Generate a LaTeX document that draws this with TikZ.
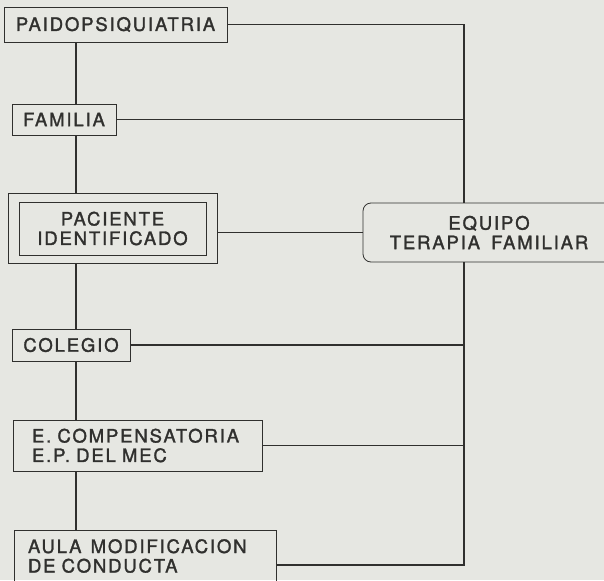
\documentclass[tikz,border=0pt]{standalone}
\usepackage{fontspec}
\setmainfont{TeX Gyre Heros}[LetterSpace=10, FakeBold=1.6, WordSpace=1.6]
\usepackage{tikz}
\usetikzlibrary{calc}
\usetikzlibrary{positioning}
\definecolor{papel}{RGB}{230,231,226}
\definecolor{tinta}{RGB}{48,48,46}

\tikzset{
  caja/.style={draw=tinta, line width=0.8pt, inner sep=0pt, text=tinta,
               font=\fontsize{18.5}{19.5}\selectfont},
  cajaizq/.style={caja, align=left, inner xsep=19pt},
  enlace/.style={-, draw=tinta, line width=1.2pt}
}

\begin{document}
\begin{tikzpicture}[x=1pt, y=-1pt]
\fill[papel] (0,0) rectangle (604,580);
\clip (0,0) rectangle (604,580);

\coordinate (ctop)  at ( 464, 22  );
\coordinate (cbot)  at ( 464, 565 );
\coordinate (spine) at ( 76,  0   );

\node[caja, minimum width=223pt, minimum height=35pt]   (paido)    at ( 115.5, 24.5 )  {PAIDOPSIQUIATRIA};
\node[caja, minimum width=104pt, minimum height=31pt]   (familia)  at ( 64,  119.5 )   {FAMILIA};
\node[caja, minimum width=209pt, minimum height=70pt]   (paciente) at ( 112.5, 228 )   {};
\node[caja, minimum width=187pt, minimum height=53pt, align=center]
                                                        (pacid)    at ( 112.5, 228.5 ) {PACIENTE\\IDENTIFICADO};
\node[caja, rounded corners=8pt, minimum width=252pt, minimum height=59pt, align=center]
                                                        (equipo)   at ( 489, 232.5 )   {EQUIPO\\TERAPIA FAMILIAR};
\node[caja, minimum width=118pt, minimum height=32pt]   (colegio)  at ( 71,  345 )     {COLEGIO};
\node[cajaizq, text width=211pt, minimum height=51pt]   (compens)  at ( 137.5, 445.5 ) {E. COMPENSATORIA\\E.P. DEL MEC};
\node[cajaizq, inner xsep=14pt, text width=234pt, minimum height=52pt]
                                                        (aula)     at ( 145, 556 )     {AULA\ \,MODIFICACION\\DE CONDUCTA};

% columna de la izquierda
\draw[enlace] (paido.south -| spine)    -- (familia.north -| spine);
\draw[enlace] (familia.south -| spine)  -- (paciente.north -| spine);
\draw[enlace] (paciente.south -| spine) -- (colegio.north -| spine);
\draw[enlace] (colegio.south -| spine)  -- (compens.north -| spine);
\draw[enlace] (compens.south -| spine)  -- (aula.north -| spine);

% tronco del equipo
\draw[enlace] (paido.east) -- (paido.east -| ctop) -- (equipo.north -| ctop);
\draw[enlace] (equipo.south -| cbot) -- (cbot) -- (aula.east |- cbot);
\draw[enlace] (familia.east) -- (familia.east -| ctop);
\draw[enlace] (equipo.west -| paciente.east) -- (equipo.west);
\draw[enlace] (colegio.east) -- (colegio.east -| ctop);
\draw[enlace] (compens.east) -- (compens.east -| ctop);
\end{tikzpicture}
\end{document}
